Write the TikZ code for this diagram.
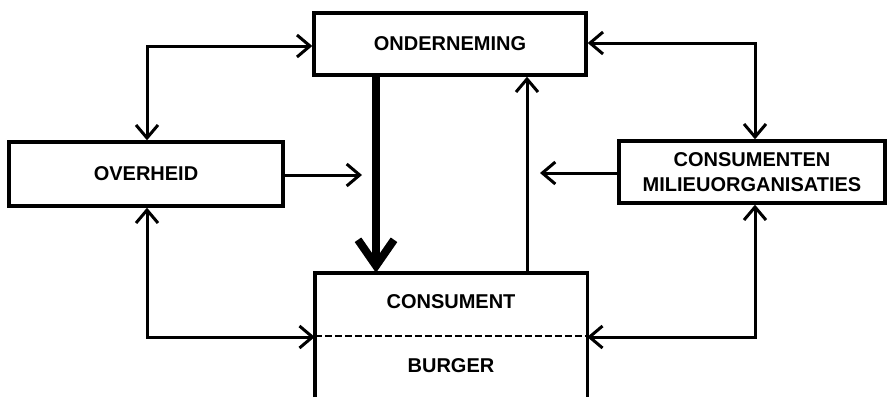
\documentclass[tikz,border=0pt]{standalone}
\usepackage{fontspec}
\setmainfont{Liberation Sans}
\usetikzlibrary{arrows.meta}
\begin{document}
\begin{tikzpicture}[x=1pt,y=-1pt,
  txt/.style={font=\fontsize{20}{25}\selectfont\bfseries},
  box/.style={draw,line width=3.4pt,inner sep=0pt,align=center,txt},
  lab/.style={inner sep=0pt,txt},
  conn/.style={line width=3pt,-{Straight Barb[length=13pt,width=22pt]}},
  both/.style={line width=3pt,{Straight Barb[length=13pt,width=22pt]}-{Straight Barb[length=13pt,width=22pt]}},
  big/.style={line width=8pt,-{Straight Barb[length=26pt,width=36pt]}}]
\useasboundingbox (0,0) rectangle (888,397);
\fill[white] (0,0) rectangle (888,397);
\node[box,minimum width=272pt,minimum height=62pt] (ond) at (450,44) {ONDERNEMING};
\node[box,minimum width=274pt,minimum height=64pt] (ove) at (146,174) {OVERHEID};
\node[box,minimum width=266pt,minimum height=62pt] (cme) at (752,172) {CONSUMENTEN\\MILIEUORGANISATIES};
\node[inner sep=0pt,minimum width=272pt,minimum height=124pt] (con) at (451,335) {};
\draw[line width=3.4pt] (con.south west) |- (con.north east) -- (con.south east);
\node[lab] (cst) at (451,302) {CONSUMENT};
\node[lab] (brg) at (451,366) {BURGER};
\coordinate (mid) at (451,336);
\draw[line width=2.6pt,dash pattern=on 7pt off 3pt] (con.west |- mid) -- (con.east |- mid);
\coordinate (tl) at (147,46);
\coordinate (tr) at (755,43);
\coordinate (bl) at (147,337);
\coordinate (br) at (755,337);
\draw[both] (ove.north -| tl) |- (ond.west |- tl);
\draw[both] (ond.east |- tr) -| (cme.north -| tr);
\draw[both] (ove.south -| bl) |- (con.west |- bl);
\draw[both] (cme.south -| br) |- (con.east |- br);
\coordinate (xt) at (376,0);
\coordinate (xu) at (527,0);
\draw[big] (ond.south -| xt) -- (con.north -| xt);
\draw[conn] (con.north -| xu) -- (ond.south -| xu);
\coordinate (ea) at (362,175);
\coordinate (eb) at (540,173);
\draw[conn] (ove.east |- ea) -- (ea);
\draw[conn] (cme.west |- eb) -- (eb);
\end{tikzpicture}
\end{document}
